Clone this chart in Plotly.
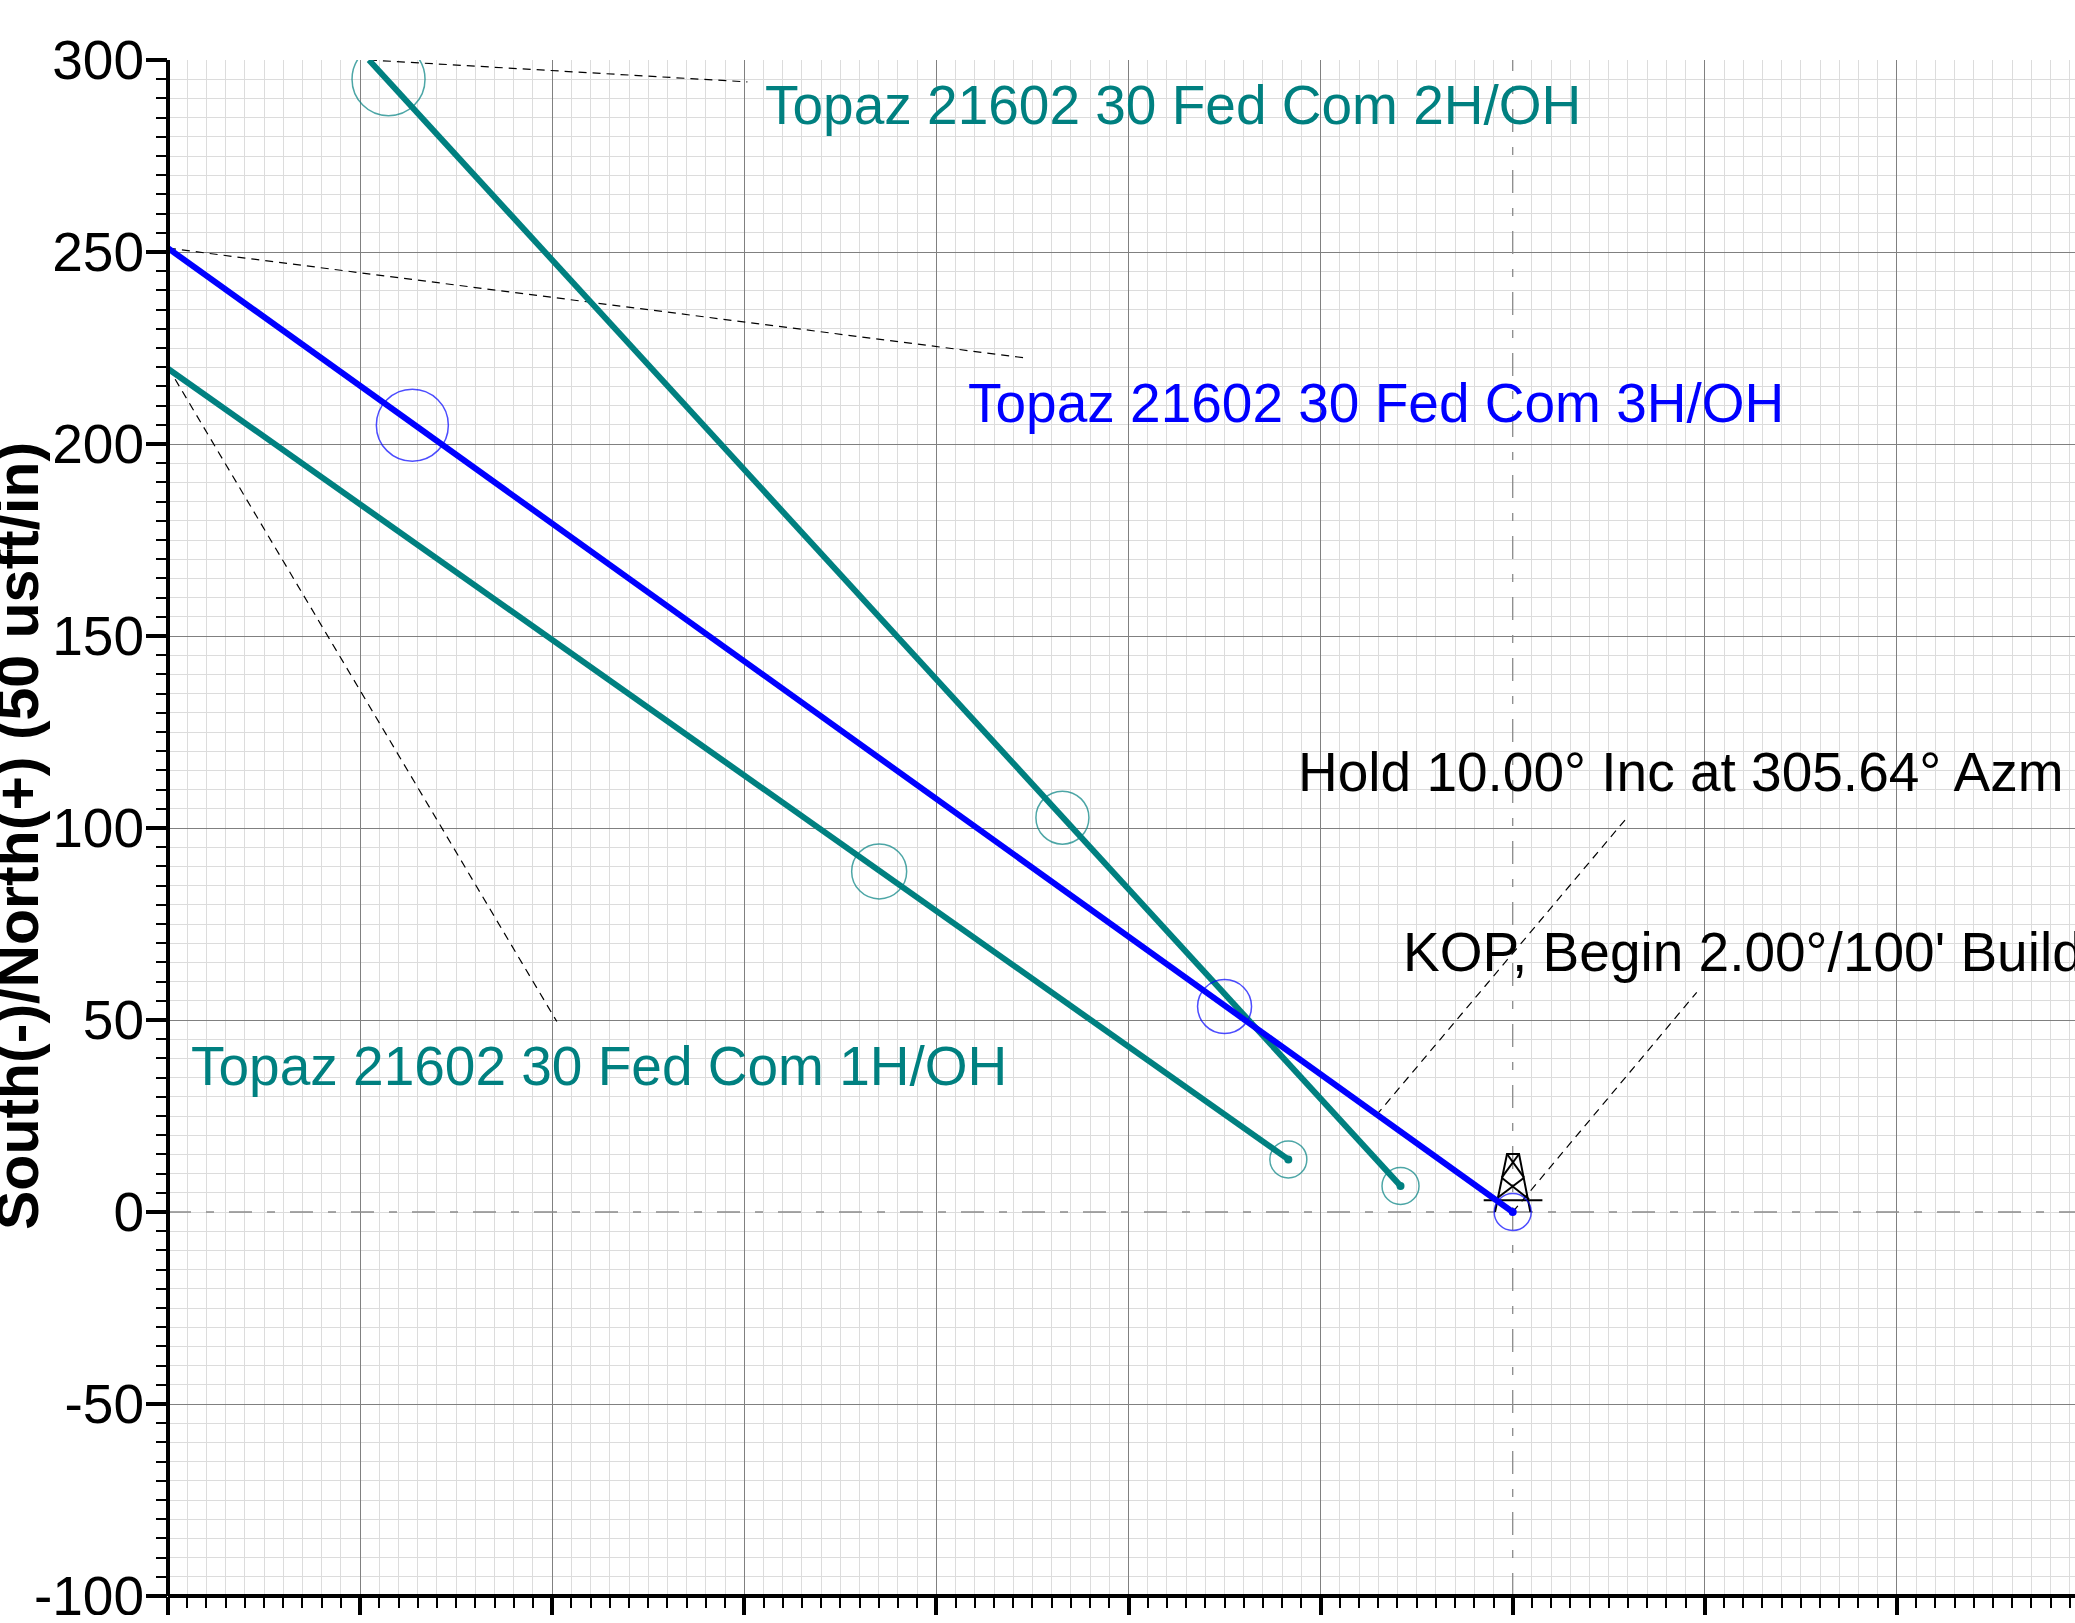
import plotly.graph_objects as go

FONT = "Liberation Sans"
TEAL = "#008080"
BLUE = "#0000FF"

# Well paths (East/West, North/South)
h1_x = [-58.4, -350.0]
h1_y = [13.7, 219.6]
h2_x = [-29.2, -297.7]
h2_y = [6.8, 300.0]
h3_x = [0.0, -350.0]
h3_y = [0.0, 251.0]

# Error circles along the paths
c1_x = [-58.4, -164.9]
c1_y = [13.7, 88.7]
c1_size = [37, 55]
c2_x = [-29.2, -117.2, -292.6]
c2_y = [6.8, 102.7, 295.0]
c2_size = [37, 53, 73]
c3_x = [0.0, -75.0, -286.4]
c3_y = [0.0, 53.5, 204.9]
c3_size = [37, 54, 72]

# Leader lines
leaders = {
    "2H": ([-297.7, -199.2], [300.0, 294.3]),
    "3H": ([-350.0, -126.0], [251.0, 222.3]),
    "1H": ([-350.0, -248.8], [220.0, 49.6]),
    "Hold": ([-35.5, 30.0], [25.2, 103.0]),
    "KOP": ([0.0, 47.9], [0.0, 57.2]),
}

# Labels
label_text = ["Topaz 21602 30 Fed Com 2H/OH", "Topaz 21602 30 Fed Com 3H/OH",
              "Topaz 21602 30 Fed Com 1H/OH", "Hold 10.00° Inc at 305.64° Azm",
              "KOP, Begin 2.00°/100' Build"]
label_x = [-195.2, -142.2, -344.5, -56.4, -29.2]
label_y = [288.2, 210.7, 38.0, 114.6, 67.7]
label_color = [TEAL, BLUE, TEAL, "#000000", "#000000"]

# Rig symbol at the well head
rig_x = [-7.55, 7.73, None, -4.6, -1.48, 1.65, 4.6, None,
         -1.48, 2.95, None, 1.65, -2.86, None, -2.86, 4.25, None, 2.95, -4.43]
rig_y = [3.04, 3.04, None, 0.0, 15.1, 15.1, 0.0, None,
         15.1, 8.94, None, 15.1, 8.94, None, 8.94, 3.3, None, 8.94, 3.3]

y_ticks = [-100, -50, 0, 50, 100, 150, 200, 250, 300]
y_tick_labels = ["-100", "-50", "0", "50", "100", "150", "200", "250", "300"]
x_range = [-350, 146.354]
y_range = [-100, 300]
axis_title = "South(-)/North(+) (50 usft/in)"

L, T, B_AXIS, W, H = 168, 60, 1596, 2075, 1623

fig = go.Figure()

# Origin dash-dot lines
origin_dash = "23px,15px,8px,15px"
fig.add_trace(go.Scatter(x=x_range, y=[0, 0], mode="lines",
                         line=dict(color="#8a8a8a", width=1.3, dash=origin_dash)))
fig.add_trace(go.Scatter(x=[0, 0], y=y_range, mode="lines",
                         line=dict(color="#8a8a8a", width=1.3, dash=origin_dash)))

# Leaders
for lx, ly in leaders.values():
    fig.add_trace(go.Scatter(x=lx, y=ly, mode="lines",
                             line=dict(color="#000000", width=1.2, dash="8px,6px")))

# Rig
fig.add_trace(go.Scatter(x=rig_x, y=rig_y, mode="lines",
                         line=dict(color="#000000", width=2)))

# Paths, circles, start dots
for px, py, cx, cy, cs, col in [
    (h1_x, h1_y, c1_x, c1_y, c1_size, TEAL),
    (h2_x, h2_y, c2_x, c2_y, c2_size, TEAL),
    (h3_x, h3_y, c3_x, c3_y, c3_size, BLUE),
]:
    fig.add_trace(go.Scatter(x=cx, y=cy, mode="markers",
                             marker=dict(symbol="circle-open", size=cs, color=col,
                                         line=dict(color=col, width=1.5))))
    fig.add_trace(go.Scatter(x=px, y=py, mode="lines", line=dict(color=col, width=6)))
    fig.add_trace(go.Scatter(x=px[:1], y=py[:1], mode="markers", marker=dict(size=8, color=col)))

for t, x, y, c in zip(label_text, label_x, label_y, label_color):
    fig.add_annotation(x=x, y=y, xref="x", yref="y", text=t, showarrow=False,
                       xanchor="left", yanchor="middle",
                       font=dict(family=FONT, size=55, color=c))

fig.add_annotation(xref="paper", yref="paper",
                   x=(18 - L) / (W - L), y=1 - (836 - T) / (B_AXIS - T),
                   text="<b>" + axis_title + "</b>", showarrow=False, textangle=-90,
                   xanchor="center", yanchor="middle",
                   font=dict(family=FONT, size=59, color="#000000"))

axis_common = dict(
    showline=False,
    showgrid=True, gridcolor="#808080", gridwidth=1,
    zeroline=True, zerolinecolor="rgba(0,0,0,0)", zerolinewidth=1,
    ticks="outside", tickcolor="#000000",
)

fig.update_xaxes(
    range=x_range, tick0=0, dtick=50, ticklen=20, tickwidth=4,
    showticklabels=False,
    minor=dict(tick0=0, dtick=5, ticks="outside", ticklen=11, tickwidth=2, tickcolor="#000000",
               showgrid=True, gridcolor="#dcdcdc", gridwidth=1),
    **axis_common,
)
fig.update_yaxes(
    range=y_range, tickmode="array", tickvals=y_ticks, ticktext=y_tick_labels,
    ticklen=21, tickwidth=4, ticklabelstandoff=-9, ticklabeloverflow="allow",
    tickfont=dict(family=FONT, size=55, color="#000000"),
    minor=dict(tick0=0, dtick=5, ticks="outside", ticklen=11, tickwidth=2, tickcolor="#000000",
               showgrid=True, gridcolor="#dcdcdc", gridwidth=1),
    **axis_common,
)

axis_line = dict(color="#000000", width=4)
fig.update_layout(
    width=W, height=H, showlegend=False,
    paper_bgcolor="white", plot_bgcolor="white",
    margin=dict(l=L, r=0, t=T, b=H - B_AXIS, pad=0, autoexpand=False),
    hovermode=False,
    shapes=[
        dict(type="line", xref="paper", yref="paper", layer="above", x0=0, x1=0, y0=0, y1=1, line=axis_line),
        dict(type="line", xref="paper", yref="paper", layer="above", x0=0, x1=1, y0=0, y1=0, line=axis_line),
        dict(type="rect", xref="paper", yref="paper", layer="above",
             x0=-1, x1=1.1, y0=-(H - B_AXIS) / (B_AXIS - T), y1=-(1615 - B_AXIS) / (B_AXIS - T),
             fillcolor="white", line=dict(width=0)),
    ],
)

fig.write_html("out.html", config=dict(displayModeBar=False),
               post_script="document.body.style.margin='0';document.body.style.overflow='hidden';")
